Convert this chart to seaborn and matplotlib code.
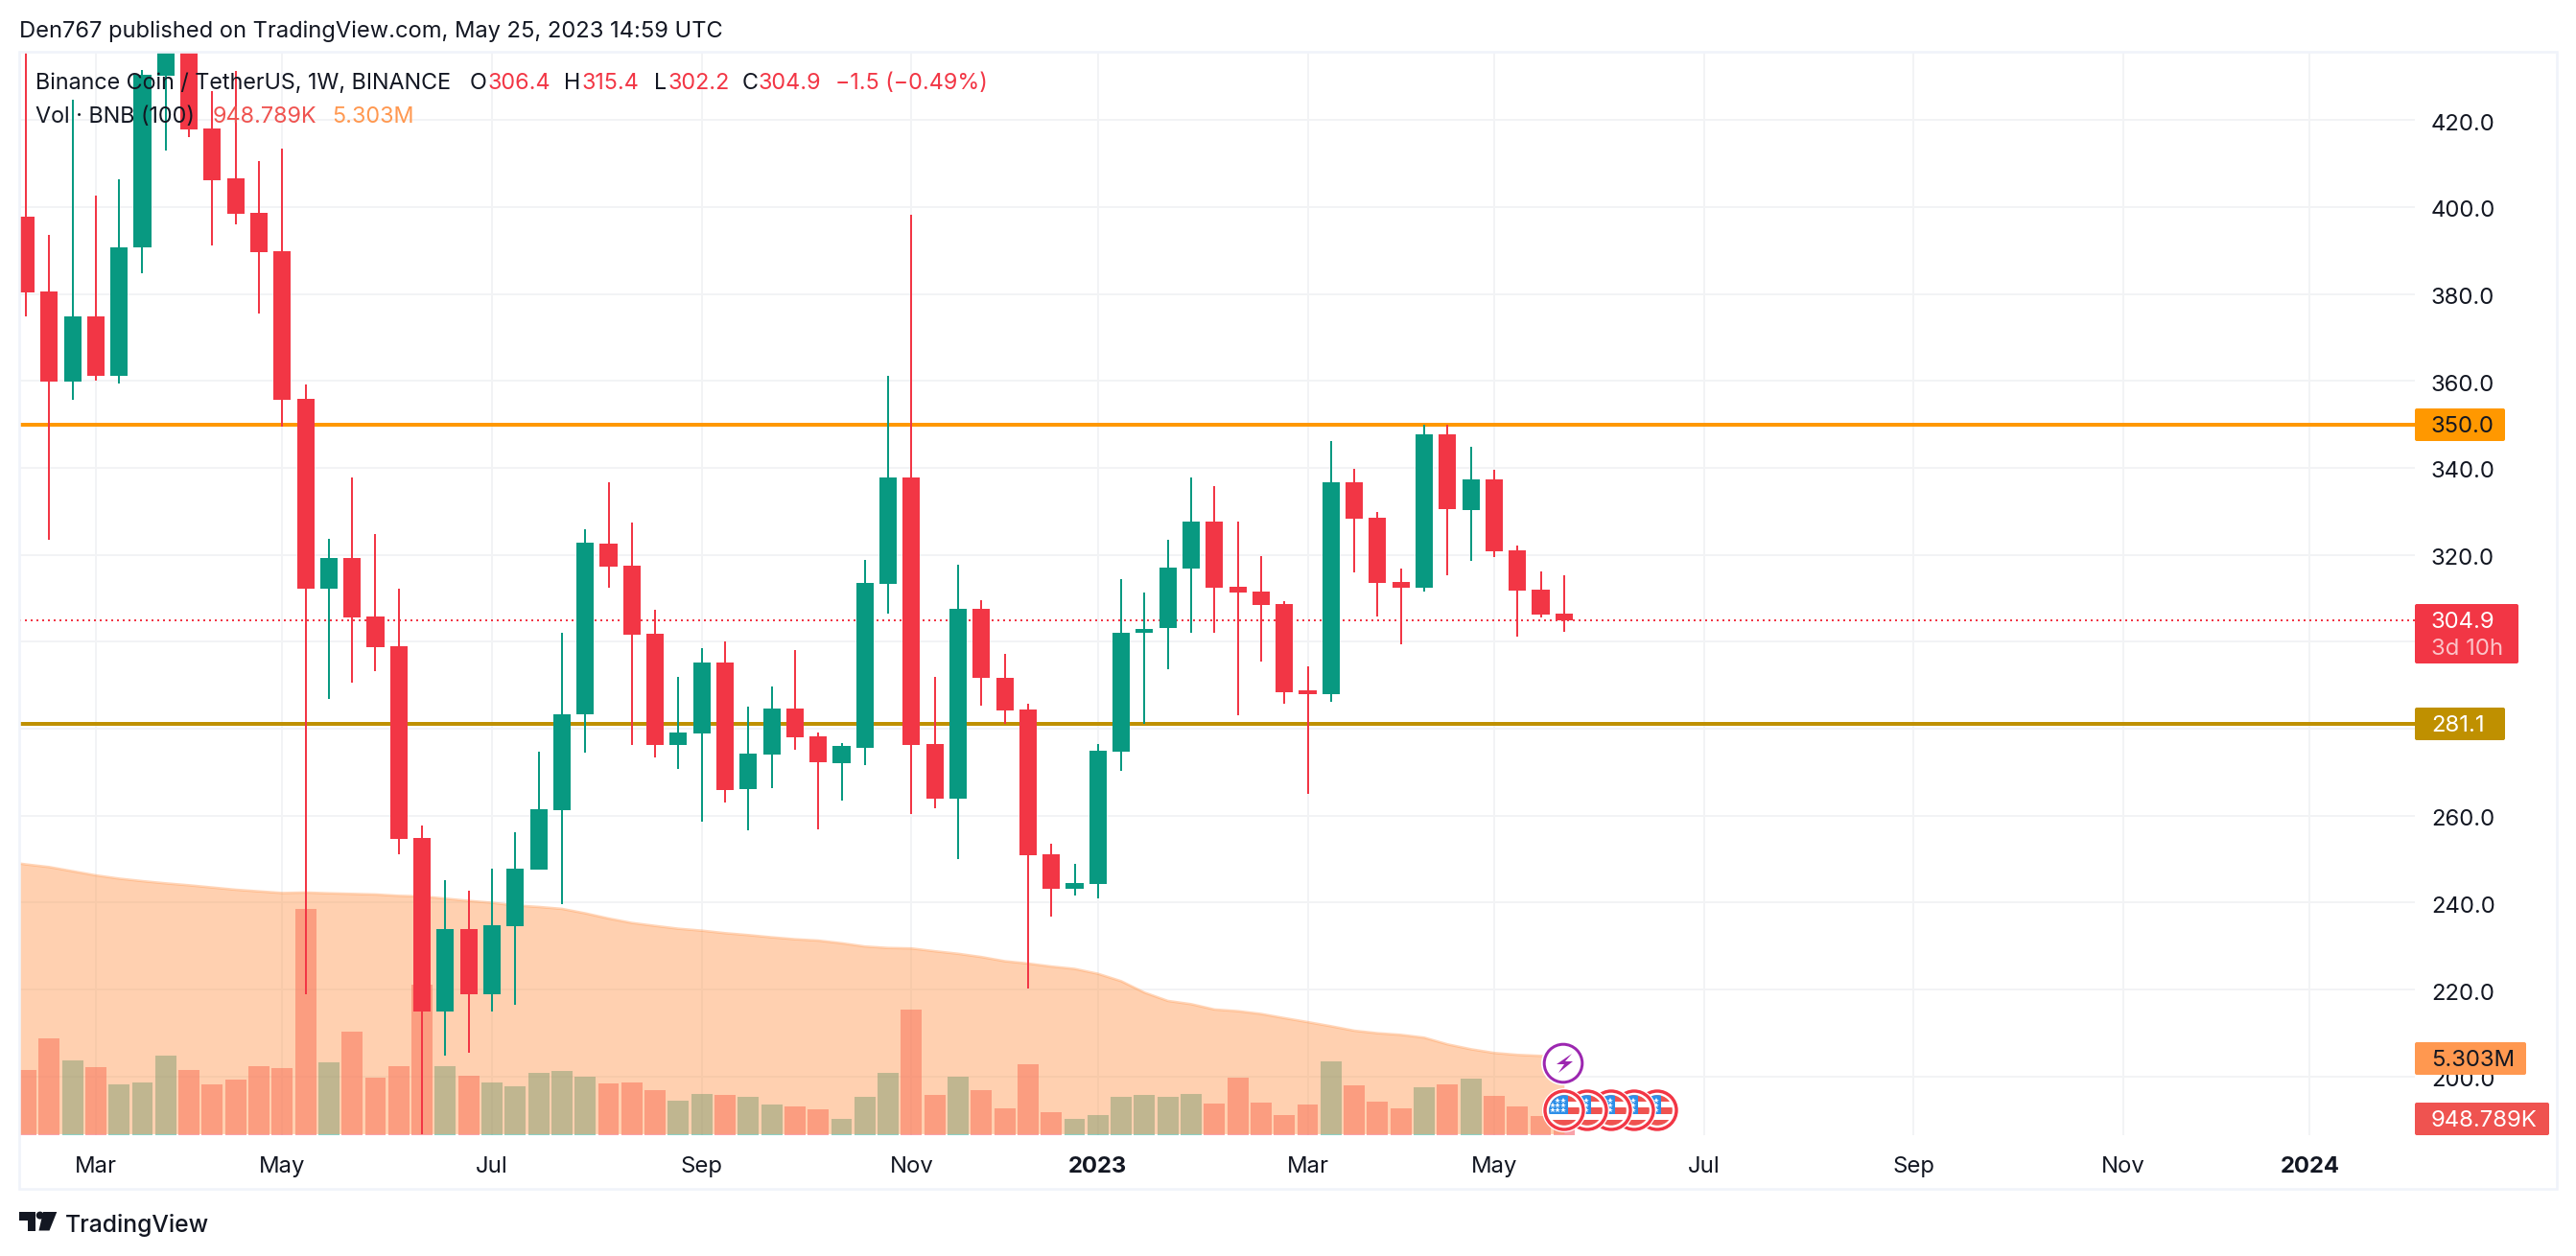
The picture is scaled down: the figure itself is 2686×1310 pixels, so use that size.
import matplotlib
matplotlib.use("Agg")
import matplotlib.pyplot as plt
from matplotlib.patches import Circle, FancyBboxPatch, Rectangle, Polygon
from matplotlib.transforms import ScaledTranslation
import numpy as np
import pandas as pd
import seaborn as sns

sns.set_theme(style="white")
plt.rcParams["font.family"] = ["Inter", "DejaVu Sans"]

# ---------- weekly BNB/USDT candles ----------
opens = [397.8, 380.6, 359.9, 374.8, 361.2, 390.6, 430.2, 446.0, 418.1, 406.6, 398.6, 389.8, 355.9, 312.3, 319.3, 305.8,
         299.0, 254.9, 215.0, 233.9, 219.0, 234.7, 247.7, 261.3, 283.4, 322.6, 317.5, 301.8, 276.3, 279.0, 295.2, 266.2,
         274.1, 284.6, 278.2, 272.1, 275.7, 313.4, 337.8, 276.5, 264.0, 307.6, 291.7, 284.4, 251.2, 243.1, 244.4, 274.8,
         302.0, 303.1, 316.9, 327.6, 312.7, 311.5, 308.7, 288.8, 287.9, 336.7, 328.5, 313.8, 312.4, 347.7, 330.3, 337.3,
         321.0, 312.0, 306.4]
highs = [450.0, 393.6, 424.7, 402.6, 406.4, 431.5, 450.0, 455.0, 426.7, 431.3, 410.6, 413.4, 359.2, 323.7, 337.8, 324.8,
         312.2, 257.8, 245.2, 242.8, 247.8, 256.2, 274.7, 302.1, 325.9, 336.7, 327.4, 307.4, 291.9, 298.5, 300.1, 285.1,
         289.7, 298.1, 279.1, 276.7, 318.8, 361.2, 398.2, 292.0, 317.7, 309.6, 297.2, 285.8, 253.6, 248.9, 276.5, 314.4,
         311.3, 323.5, 337.8, 335.8, 327.6, 319.7, 309.3, 294.4, 346.2, 339.8, 329.9, 316.8, 349.9, 349.9, 344.8, 339.6,
         322.1, 316.2, 315.4]
lows = [374.8, 323.5, 355.7, 360.1, 359.5, 384.8, 412.9, 416.1, 391.2, 396.1, 375.6, 349.5, 219.0, 286.9, 290.7, 293.3,
        251.2, 186.7, 204.9, 205.6, 215.0, 216.6, 247.7, 239.7, 274.4, 312.5, 276.3, 273.5, 270.8, 258.7, 263.1, 256.7,
        266.4, 275.2, 256.9, 263.5, 271.6, 306.5, 260.3, 261.8, 250.1, 285.4, 281.2, 220.3, 236.9, 241.6, 240.9, 270.4,
        281.2, 293.6, 302.1, 302.1, 283.0, 295.5, 285.8, 265.1, 286.3, 316.0, 305.9, 299.5, 311.5, 315.3, 318.6, 319.5,
        301.2, 305.6, 302.2]
closes = [380.4, 359.9, 374.8, 361.2, 390.7, 430.4, 446.0, 417.9, 406.2, 398.5, 389.7, 355.7, 312.3, 319.3, 305.7, 298.8,
          254.7, 215.0, 233.9, 219.0, 234.8, 247.8, 261.5, 283.3, 322.8, 317.3, 301.7, 276.3, 279.1, 295.2, 266.0, 274.3,
          284.6, 278.1, 272.4, 276.0, 313.5, 337.8, 276.3, 264.0, 307.6, 291.6, 284.3, 251.0, 243.1, 244.5, 274.9, 302.1,
          303.0, 317.1, 327.6, 312.5, 311.4, 308.5, 288.5, 287.9, 336.7, 328.4, 313.6, 312.5, 347.7, 330.5, 337.3, 320.8,
          311.8, 306.3, 304.9]
# volume in millions of BNB
volumes = [4.38, 6.51, 5.02, 4.57, 3.41, 3.53, 5.34, 4.38, 3.41, 3.73, 4.63, 4.50, 15.24, 4.89, 6.96, 3.86,
           4.63, 10.15, 4.63, 3.99, 3.53, 3.28, 4.18, 4.31, 3.92, 3.47, 3.53, 3.02, 2.31, 2.76, 2.69, 2.56,
           2.05, 1.92, 1.72, 1.08, 2.56, 4.17, 8.45, 2.71, 3.92, 3.01, 1.80, 4.75, 1.52, 1.08, 1.33, 2.57,
           2.71, 2.57, 2.76, 2.10, 3.87, 2.18, 1.33, 2.04, 4.94, 3.34, 2.24, 1.80, 3.20, 3.40, 3.78, 2.62,
           1.91, 1.27, 0.949]
# volume moving average, one earlier point so the area reaches the pane edge
vol_ma = [18.45, 18.24, 18.06, 17.78, 17.50, 17.28, 17.11, 16.96, 16.83, 16.68, 16.53, 16.42, 16.31, 16.34, 16.29, 16.25,
          16.21, 16.12, 16.08, 15.93, 15.78, 15.65, 15.47, 15.37, 15.24, 14.94, 14.59, 14.29, 14.09, 13.90, 13.77, 13.60,
          13.47, 13.32, 13.19, 13.10, 12.92, 12.70, 12.60, 12.57, 12.38, 12.21, 11.99, 11.71, 11.55, 11.35, 11.19, 10.86,
          10.36, 9.59, 9.03, 8.81, 8.45, 8.34, 8.15, 7.87, 7.60, 7.32, 7.02, 6.85, 6.74, 6.55, 6.10, 5.77, 5.52, 5.39,
          5.32, 5.303]
price_ticks = [200, 220, 240, 260, 280, 300, 320, 340, 360, 380, 400, 420]
hidden_ticks = [280, 300]
time_ticks = [3, 11, 20, 29, 38, 46, 55, 63, 72, 81, 90, 98]
time_labels = ["Mar", "May", "Jul", "Sep", "Nov", "2023", "Mar", "May", "Jul", "Sep", "Nov", "2024"]
level_high = 350.0
level_low = 281.1
last_close = 304.9

RED = "#F23645"
GREEN = "#089981"
INK = "#131722"
GRID = "#F2F3F5"
BORDER = "#F0F3FA"
ORANGE = "#FF9850"
FS = 17.2
FS_LEGEND = 16.8

W, H = 2686, 1310
fig = plt.figure(figsize=(W / 100, H / 100), dpi=100, facecolor="white")
px = 0.72  # points per pixel
pos = [20 / W, 1 - 1183.5 / H, (2518 - 20) / W, (1183.5 - 54) / H]
XLIM = (-0.288, 102.51)
YLIM = (186.64, 435.69)
VLIM = (0, 73.06)

weeks = np.arange(len(opens))
df = pd.DataFrame({"week": weeks, "open": opens, "high": highs, "low": lows, "close": closes, "vol": volumes})
df["dir"] = np.where(df["close"] >= df["open"], "up", "down")

# background layer : grid, levels, price scale
ax_bg = fig.add_axes(pos, zorder=1)
ax_bg.set_xlim(*XLIM)
ax_bg.set_ylim(*YLIM)
ax_bg.set_xticks(time_ticks)
ax_bg.set_xticklabels(time_labels, fontsize=FS, color=INK)
for lab, txt in zip(ax_bg.get_xticklabels(), time_labels):
    if txt.isdigit():
        lab.set_fontweight("bold")
ax_bg.set_yticks(price_ticks)
ax_bg.set_yticklabels(["" if t in hidden_ticks else f"{t:.1f}" for t in price_ticks], fontsize=FS, color=INK)
ax_bg.yaxis.tick_right()
ax_bg.tick_params(axis="both", length=0)
ax_bg.tick_params(axis="y", pad=12.2)
ax_bg.tick_params(axis="x", pad=16)
nudge = ScaledTranslation(0, -2 / 100, fig.dpi_scale_trans)
for lab in ax_bg.yaxis.get_majorticklabels():
    lab.set_transform(lab.get_transform() + nudge)
ax_bg.grid(True, color=GRID, linewidth=2 * px)
for s in ax_bg.spines.values():
    s.set_visible(False)
ax_bg.axhline(level_high, color="#FF9800", linewidth=4 * px)
ax_bg.axhline(level_low, color="#BF9000", linewidth=4 * px)
ax_bg.axhline(last_close, color=RED, linewidth=2 * px, linestyle=(0, (1, 2)))

# volume layer
ax_vol = fig.add_axes(pos, zorder=2)
ax_vol.patch.set_alpha(0)
sns.barplot(data=df, x="week", y="vol", hue="dir", palette={"up": GREEN, "down": RED}, native_scale=True,
            width=0.9, dodge=False, saturation=1, alpha=0.46, linewidth=0, legend=False, ax=ax_vol)
ma_weeks = np.arange(-1, len(opens))
ax_vol.fill_between(ma_weeks, 0.07, vol_ma, color=ORANGE, alpha=0.45, linewidth=0)
sns.lineplot(x=ma_weeks, y=vol_ma, color=ORANGE, alpha=0.4, linewidth=2.5 * px, errorbar=None, ax=ax_vol)
ax_vol.set_xlim(*XLIM)
ax_vol.set_ylim(*VLIM)
ax_vol.axis("off")

# candle layer
ax_c = fig.add_axes(pos, zorder=3)
ax_c.patch.set_alpha(0)
colors = [GREEN if d == "up" else RED for d in df["dir"]]
ax_c.vlines(df["week"], df["low"], df["high"], colors=colors, linewidth=2 * px)
ax_c.bar(df["week"], np.abs(df["close"] - df["open"]), bottom=np.minimum(df["open"], df["close"]),
         width=0.745, color=colors, linewidth=0)
ax_c.set_xlim(*XLIM)
ax_c.set_ylim(*YLIM)
ax_c.axis("off")

# overlay in image pixels : frame, legend text, labels, icons, logo
ov = fig.add_axes([0, 0, 1, 1], zorder=4)
ov.set_xlim(0, W)
ov.set_ylim(H, 0)
ov.axis("off")
ov.patch.set_alpha(0)

ov.add_patch(Rectangle((20, 54), 2666 - 20, 1240 - 54, fill=False, edgecolor=BORDER, linewidth=2.6 * px))


def run(x, y, s, color=INK, size=FS, **kw):
    ov.text(x, y, s, color=color, fontsize=size, va="center", ha="left", **kw)


run(20, 33, "Den767 published on TradingView.com, May 25, 2023 14:59 UTC", size=17.05)
run(36.7, 87, "Binance Coin / TetherUS, 1W, BINANCE", size=FS_LEGEND)
for x, lab, val in [(490, "O", "306.4"), (588, "H", "315.4"), (682, "L", "302.2"), (774, "C", "304.9")]:
    run(x, 87, lab, size=FS_LEGEND)
    run(x + {"O": 19, "H": 19, "L": 14, "C": 17}[lab], 87, val, color=RED, size=FS_LEGEND)
run(871, 87, "\u22121.5 (\u22120.49%)", color=RED, size=FS_LEGEND)
run(36.7, 122, "Vol \u00b7 BNB (100)", size=FS_LEGEND)
run(222, 122, "948.789K", color="#EF5350", size=FS_LEGEND)
run(346, 122, "5.303M", color=ORANGE, size=FS_LEGEND)


def tag(x1, y0, y1, color):
    ov.add_patch(FancyBboxPatch((2518, y0), x1 - 2518, y1 - y0, boxstyle="round,pad=0,rounding_size=2",
                                facecolor=color, edgecolor="none"))


tag(2612, 426, 460, "#FF9800")
run(2535, 445, "350.0", color=INK)
tag(2626, 630, 692, RED)
run(2535, 649, "304.9", color="white")
run(2535, 677, "3d 10h", color="#FBC3C8")
tag(2612, 738, 772, "#BF9000")
run(2535, 757, "281.1", color="white")
tag(2634, 1087, 1121, ORANGE)
run(2535, 1106, "5.303M", color=INK)
tag(2658, 1150, 1184, "#EF5350")
run(2535, 1169, "948.789K", color="white")

# lightning marker
ov.add_patch(Circle((1630, 1109), 23, facecolor="white", edgecolor="none", zorder=5))
ov.add_patch(Circle((1630, 1109), 19.8, facecolor="white", edgecolor="#9C27B0", linewidth=3 * px, zorder=6))
ov.add_patch(Polygon([(1639, 1099), (1623, 1110), (1631, 1110), (1625, 1119), (1640, 1107), (1632, 1107)],
                     closed=True, facecolor="#9C27B0", edgecolor="none", zorder=7))


# event flags, rightmost first so the left one stays on top
def flag(cx, cy, z):
    ov.add_patch(Circle((cx, cy), 23, facecolor="white", edgecolor="none", zorder=z))
    ov.add_patch(Circle((cx, cy), 20, facecolor="white", edgecolor=RED, linewidth=3.4 * px, zorder=z))
    clip = Circle((cx, cy), 15.8, transform=ov.transData)
    for top, bot in [(-16, -9), (-3, 3.5), (9.5, 16)]:
        r = Rectangle((cx - 16, cy + top), 32, bot - top, facecolor="#EF5350", edgecolor="none", zorder=z)
        ov.add_patch(r)
        r.set_clip_path(clip)
    c = Rectangle((cx - 16, cy - 16), 20.3, 19.5, facecolor="#2E8FE8", edgecolor="none", zorder=z)
    ov.add_patch(c)
    c.set_clip_path(clip)
    for dy in (-10, -5, 0):
        for dx in (-12, -7, -1):
            if dx * dx + dy * dy < 190:
                ov.plot(cx + dx, cy + dy, marker="*", ms=3.8, color="white", mew=0, zorder=z)


for k, cx in enumerate([1728, 1704, 1680, 1655, 1631]):
    flag(cx, 1158, 8 + k)
ov.set_xlim(0, W)
ov.set_ylim(H, 0)

# TradingView logo
ov.add_patch(Polygon([(20, 1264), (36.7, 1264), (36.7, 1283.5), (28.7, 1283.5), (28.7, 1272.7), (20, 1272.7)],
                     closed=True, facecolor=INK, edgecolor="none"))
ov.add_patch(Circle((41.7, 1267.6), 4, facecolor=INK, edgecolor="none"))
ov.add_patch(Polygon([(45, 1264), (59.3, 1264), (51.5, 1283.5), (40.5, 1283.5)], closed=True, facecolor=INK, edgecolor="none"))
run(67.5, 1278, "TradingView", size=17.8, fontweight="medium")

fig.savefig("out.png", dpi=100, facecolor="white")
